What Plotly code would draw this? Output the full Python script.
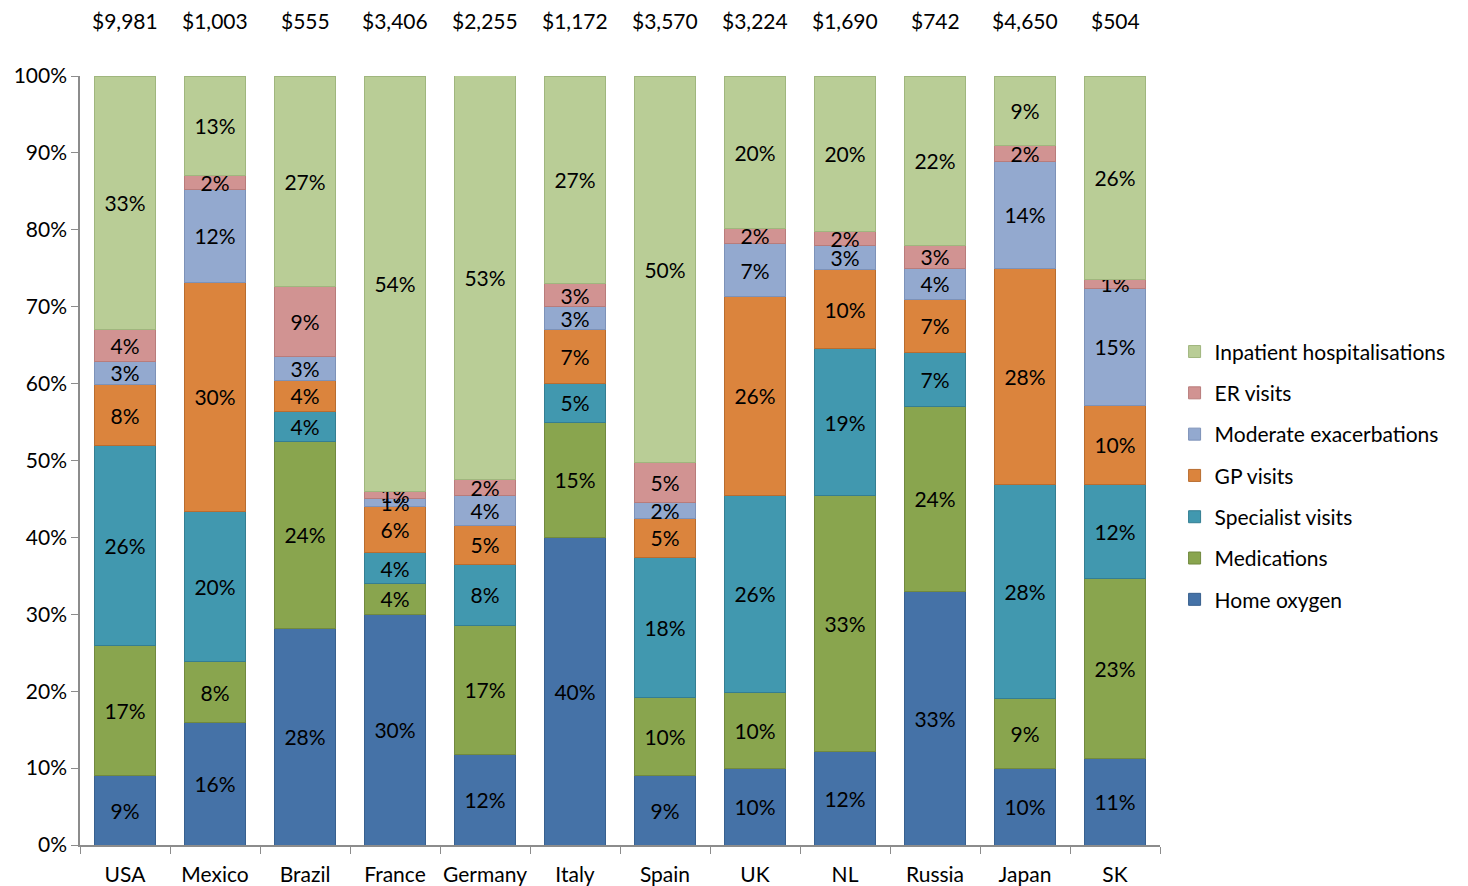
import plotly.graph_objects as go

countries = ["USA", "Mexico", "Brazil", "France", "Germany", "Italy", "Spain", "UK", "NL", "Russia", "Japan", "SK"]
totals = ["$9,981", "$1,003", "$555", "$3,406", "$2,255", "$1,172", "$3,570", "$3,224", "$1,690", "$742", "$4,650", "$504"]

home_oxygen = [9.0, 15.9, 28.2, 30.0, 11.8, 40.0, 9.1, 9.9, 12.1, 33.0, 10.0, 11.3]
medications = [16.9, 7.9, 24.3, 4.0, 16.8, 15.0, 10.1, 9.9, 33.3, 24.0, 9.0, 23.4]
specialist = [26.0, 19.6, 3.9, 4.0, 7.9, 5.0, 18.2, 25.7, 19.2, 7.0, 27.9, 12.2]
gp_visits = [8.0, 29.8, 4.0, 6.0, 5.1, 7.0, 5.1, 25.8, 10.2, 7.0, 28.1, 10.3]
moderate = [3.0, 12.0, 3.1, 1.1, 3.9, 3.0, 2.0, 6.9, 3.1, 4.0, 13.9, 15.2]
er_visits = [4.1, 1.9, 9.1, 0.9, 2.0, 3.0, 5.2, 2.0, 1.9, 3.0, 2.1, 1.2]
inpatient = [33.0, 12.9, 27.4, 54.0, 52.6, 27.0, 50.3, 19.8, 20.2, 22.0, 9.0, 26.4]

series = [
    ("Home oxygen", home_oxygen, "#4572A7", "#38608E"),
    ("Medications", medications, "#89A54E", "#71893F"),
    ("Specialist visits", specialist, "#4198AF", "#347E92"),
    ("GP visits", gp_visits, "#DB843D", "#B86D30"),
    ("Moderate exacerbations", moderate, "#93A9CF", "#7D92B8"),
    ("ER visits", er_visits, "#D19392", "#B87C7B"),
    ("Inpatient hospitalisations", inpatient, "#B9CD96", "#A0B67E"),
]

FONT = "Lato, 'Open Sans', sans-serif"
FS = 21

fig = go.Figure()
n = len(series)
for i, (name, vals, color, line) in enumerate(series):
    fig.add_trace(go.Bar(
        name=name, x=countries, y=vals,
        marker=dict(color=color, line=dict(color=line, width=1)),
        text=[f"{round(v)}%" for v in vals],
        textposition="inside", insidetextanchor="middle",
        textfont=dict(family=FONT, size=FS, color="#000000"),
        legendgroup=name, legendrank=n - i,
    ))

for c, t in zip(countries, totals):
    fig.add_annotation(x=c, y=1, yref="paper", yanchor="middle", yshift=56,
                       text=t, showarrow=False,
                       font=dict(family=FONT, size=FS, color="#000000"))

# page body adds an 8px offset; margins compensate
fig.update_layout(
    width=1460, height=878,
    barmode="stack", bargap=0.33,
    plot_bgcolor="white", paper_bgcolor="white",
    margin=dict(l=72, r=308, t=68, b=41),
    font=dict(family=FONT, size=FS, color="#000000"),
    uniformtext=dict(minsize=FS, mode="show"),
    legend=dict(x=1.0135, xanchor="left", y=0.48, yanchor="middle",
                traceorder="grouped", tracegroupgap=11,
                font=dict(family=FONT, size=FS, color="#000000")),
    showlegend=True,
)
fig.update_xaxes(showline=True, linecolor="#8C8C8C", linewidth=1.5,
                 ticks="outside", tickson="boundaries", ticklen=7, tickcolor="#8C8C8C",
                 tickangle=0, ticklabelstandoff=10,
                 tickfont=dict(family=FONT, size=FS), showgrid=False, automargin=False)
fig.update_yaxes(range=[0, 100], dtick=10, ticksuffix="%",
                 showline=True, linecolor="#8C8C8C", linewidth=1.5,
                 ticks="outside", ticklen=7, tickcolor="#8C8C8C",
                 tickfont=dict(family=FONT, size=FS), showgrid=False, zeroline=False,
                 automargin=False)

fig.write_html("out.html")
